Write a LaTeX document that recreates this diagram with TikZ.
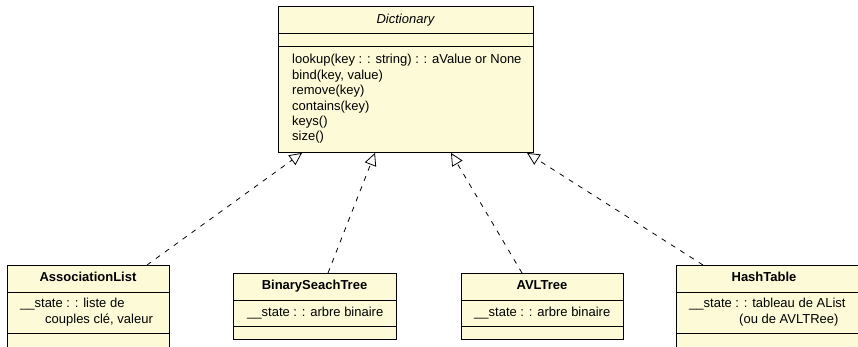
\documentclass[tikz,border=0pt]{standalone}
\usepackage{fontspec}
\setmainfont{Liberation Sans}
\usetikzlibrary{arrows.meta}
\definecolor{classfill}{RGB}{253,250,215}
\tikzset{
  x=1pt, y=-1pt,
  classbox/.style={draw=black, fill=classfill, line width=0.9pt, inner sep=0pt, anchor=north west},
  sep/.style={draw=black, line width=0.9pt},
  txt/.style={inner sep=0pt, font=\fontsize{13}{15.4}\selectfont},
  realize/.style={draw=black, line width=0.8pt, dash pattern=on 5pt off 6pt,
    -{Triangle[open, length=12.5pt, width=12pt, fill=white]}},
}
\begin{document}
\begin{tikzpicture}
\useasboundingbox (0,0) rectangle (858,346);
\clip (0,0) rectangle (858,346);

% interface Dictionary
\node[classbox, minimum width=255pt, minimum height=146pt] (dict) at (278,6) {};
\draw[sep] (278,33) -- (533,33);
\draw[sep] (278,46) -- (533,46);
\node[txt, anchor=base] (dname) at (405.5,23.5) {\itshape Dictionary};
\node[txt, anchor=base west] (m1) at (292,63.8) {lookup(key : : string) : : aValue or None};
\node[txt, anchor=base west] (m2) at (292,79.2) {bind(key, value)};
\node[txt, anchor=base west] (m3) at (292,94.6) {remove(key)};
\node[txt, anchor=base west] (m4) at (292,110.0) {contains(key)};
\node[txt, anchor=base west] (m5) at (292,125.4) {keys()};
\node[txt, anchor=base west] (m6) at (292,140.8) {size()};

% AssociationList
\node[classbox, minimum width=162pt, minimum height=100pt] (assoc) at (7,265) {};
\draw[sep] (7,292) -- (169,292);
\draw[sep] (7,333) -- (169,333);
\node[txt, anchor=base] (aname) at (88,281.7) {\bfseries AssociationList};
\node[txt, anchor=base west] (aattr1) at (20,307.5) {\_\_state : : liste de};
\node[txt, anchor=base west] (aattr2) at (45,323) {couples clé, valeur};

% BinarySeachTree
\node[classbox, minimum width=163pt, minimum height=66pt] (bst) at (233,273) {};
\draw[sep] (233,300) -- (396,300);
\draw[sep] (233,326) -- (396,326);
\node[txt, anchor=base] (bname) at (314.5,289.7) {\bfseries BinarySeachTree};
\node[txt, anchor=base west] (battr) at (247,316.5) {\_\_state : : arbre binaire};

% AVLTree
\node[classbox, minimum width=162pt, minimum height=66pt] (avl) at (461,273) {};
\draw[sep] (461,300) -- (623,300);
\draw[sep] (461,326) -- (623,326);
\node[txt, anchor=base] (vname) at (542,289.7) {\bfseries AVLTree};
\node[txt, anchor=base west] (vattr) at (474,316.5) {\_\_state : : arbre binaire};

% HashTable
\node[classbox, minimum width=200pt, minimum height=100pt] (hash) at (676,265) {};
\draw[sep] (676,292) -- (876,292);
\draw[sep] (676,333) -- (876,333);
\node[txt, anchor=base] (hname) at (764,281.7) {\bfseries HashTable};
\node[txt, anchor=base west] (hattr1) at (689,307.5) {\_\_state : : tableau de AList};
\node[txt, anchor=base west] (hattr2) at (739,323) {(ou de AVLTRee)};

% realizations of the interface
\draw[realize] ([xshift=140pt]assoc.north west) -- ([xshift=24pt]dict.south west);
\draw[realize] ([xshift=95pt]bst.north west) -- ([xshift=97pt]dict.south west);
\draw[realize] ([xshift=61pt]avl.north west) -- ([xshift=173pt]dict.south west);
\draw[realize] ([xshift=27pt]hash.north west) -- ([xshift=249pt]dict.south west);
\end{tikzpicture}
\end{document}
